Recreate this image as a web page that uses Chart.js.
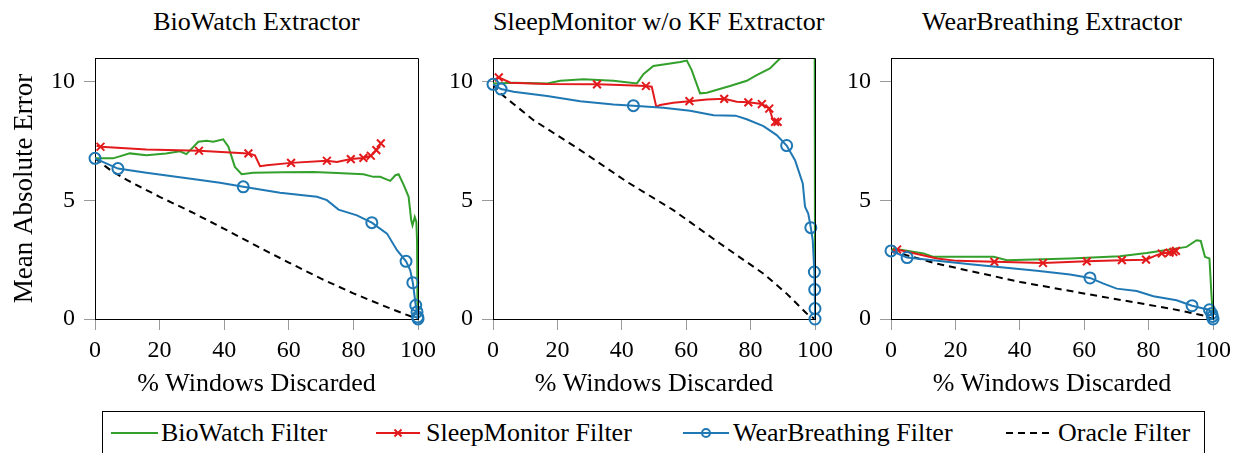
<!DOCTYPE html>
<html><head><meta charset="utf-8">
<script src="https://cdn.jsdelivr.net/npm/chart.js@4/dist/chart.umd.min.js"></script>
<style>
body{margin:0;background:#fff;width:1245px;height:453px;overflow:hidden;position:relative;font-family:'Liberation Serif',serif;}
canvas{position:absolute;top:0;}
.ttl{position:absolute;top:5px;font-size:26px;text-align:center;line-height:34px;color:#000;white-space:nowrap;}
#legend{position:absolute;left:102px;top:411px;width:1103px;height:60px;border:1px solid #000;box-sizing:border-box;}
.lt{position:absolute;top:4px;font-size:26px;line-height:34px;white-space:nowrap;}
.ls{position:absolute;top:0;}
</style></head><body>
<div class="ttl" style="left:95px;width:323px">BioWatch Extractor</div>
<div class="ttl" style="left:493px;width:322px">SleepMonitor w/o KF Extractor</div>
<div class="ttl" style="left:891px;width:322px">WearBreathing Extractor</div>
<canvas id="c1" width="443" height="400" style="left:0px"></canvas>
<canvas id="c2" width="395" height="400" style="left:445px"></canvas>
<canvas id="c3" width="395" height="400" style="left:843px"></canvas>
<div id="legend">
<svg class="ls" width="1100" height="50">
<line x1="8" y1="21" x2="55" y2="21" stroke="#33a02c" stroke-width="2"/>
<line x1="273" y1="21" x2="317" y2="21" stroke="#e31a1c" stroke-width="2"/>
<path d="M291.5 17.5 L298.5 24.5 M298.5 17.5 L291.5 24.5" stroke="#e31a1c" stroke-width="2"/>
<line x1="580" y1="21" x2="626" y2="21" stroke="#1f78b4" stroke-width="2"/>
<circle cx="603" cy="21" r="4" fill="none" stroke="#1f78b4" stroke-width="2"/>
<line x1="903" y1="21" x2="948" y2="21" stroke="#000" stroke-width="2" stroke-dasharray="7,5"/>
</svg>
<span class="lt" style="left:58px">BioWatch Filter</span>
<span class="lt" style="left:323px">SleepMonitor Filter</span>
<span class="lt" style="left:630px">WearBreathing Filter</span>
<span class="lt" style="left:955px">Oracle Filter</span>
</div>
<script>
// ---------- data ----------
const xTicks = [0, 20, 40, 60, 80, 100];
const yTicks = [0, 5, 10];
const seriesNames = ["BioWatch Filter", "SleepMonitor Filter", "WearBreathing Filter", "Oracle Filter"];
const panelTitles = ["BioWatch Extractor", "SleepMonitor w/o KF Extractor", "WearBreathing Extractor"];

// Panel 1: BioWatch Extractor
const p1GreenX = [0,5.6,10.8,15.9,22,26.3,28.3,32,34.5,36.6,39.7,41.3,43.3,45.4,49,58,67.6,75,83.1,86.2,88.3,91.4,93,94,95.6,97.1,97.9,98.3,99,99.5,99.7,99.8,99.9];
const p1GreenY = [6.77,6.77,6.98,6.9,6.98,7.07,6.95,7.47,7.51,7.47,7.57,7.26,6.41,6.1,6.16,6.18,6.2,6.15,6.1,5.99,5.99,5.82,6.06,6.1,5.64,5.15,4.16,3.95,4.3,4.09,3.32,1.07,0.2];
const p1RedX = [0.5,1.7,15.9,32.2,47.5,49.5,51.1,53.2,60.7,71.8,74.9,79.2,83.1,85.4,87.1,88.5];
const p1RedY = [7.3,7.26,7.14,7.09,6.98,6.9,6.44,6.48,6.58,6.67,6.62,6.74,6.79,6.88,7.12,7.4];
const p1RedMkX = [1.7,32.2,47.5,60.7,71.8,79.2,83.1,85.4,87.1,88.5];
const p1RedMkY = [7.26,7.09,6.98,6.58,6.67,6.74,6.79,6.88,7.12,7.4];
const p1BlueX = [0,7.1,15.9,31.4,38.7,45.9,57.3,68.7,71.8,75.4,81.1,85.7,90.4,93.5,96.3,97.6,98.4,99.3,99.7,99.9,100];
const p1BlueY = [6.77,6.34,6.16,5.88,5.74,5.57,5.32,5.15,5.01,4.61,4.37,4.06,3.6,2.9,2.43,2.05,1.53,0.58,0.3,0.08,0];
const p1BlueMkX = [0,7.1,45.9,85.7,96.3,98.4,99.3,99.7,99.9,100];
const p1BlueMkY = [6.77,6.34,5.57,4.06,2.43,1.53,0.58,0.3,0.08,0];
const p1OracleX = [0,5,10,20,30,40,50,60,70,80,90,96,100];
const p1OracleY = [6.77,6.25,5.85,5.15,4.5,3.8,3.08,2.38,1.7,1.08,0.52,0.2,0];

// Panel 2: SleepMonitor w/o KF Extractor
const p2GreenX = [0,6.4,16.8,20.9,28.1,37.4,44.7,46.7,49.8,54,58.1,60.2,61.7,64.3,66.4,73.6,78.8,81.9,86,88.1,89.7,92,96,99.5,99.9,100];
const p2GreenY = [9.93,9.96,9.93,10.04,10.1,10.04,9.93,10.32,10.66,10.75,10.83,10.89,10.49,9.51,9.54,9.82,10.04,10.28,10.56,10.84,11.05,11.5,12,12,11.5,2.0];
const p2RedX = [0.5,1.8,5.4,16.8,32.3,39.5,47.5,49.3,50.7,51.9,56,61,66.4,71.8,75.7,79.3,83.5,85.8,86.9,87.6,88.4];
const p2RedY = [10.1,10.18,9.96,9.9,9.89,9.86,9.82,9.79,8.95,9.02,9.11,9.18,9.25,9.28,9.16,9.13,9.06,8.87,8.41,8.31,8.31];
const p2RedMkX = [1.8,32.3,47.5,61,71.8,79.3,83.5,85.8,87.6,88.4];
const p2RedMkY = [10.18,9.89,9.82,9.18,9.28,9.13,9.06,8.87,8.31,8.31];
const p2BlueX = [0,2.5,6.4,16.8,27.1,37.4,43.6,52.9,61.2,68.5,75.3,78.8,84,88.1,91.2,93.8,96.2,96.9,97.9,98.7,99.3,99.8,99.9,100,100];
const p2BlueY = [9.89,9.69,9.58,9.4,9.18,9.04,8.99,8.9,8.78,8.59,8.57,8.42,8.13,7.75,7.31,6.69,5.71,4.73,4.44,3.85,3.32,1.98,1.24,0.44,0];
const p2BlueMkX = [0,2.5,43.6,91.2,98.7,99.8,99.9,100,100];
const p2BlueMkY = [9.89,9.69,8.99,7.31,3.85,1.98,1.24,0.44,0];
const p2OracleX = [0,2.3,12.6,27.1,41.6,56,70.5,84,91.2,97.4,100];
const p2OracleY = [9.89,9.51,8.38,7.12,5.78,4.59,3.18,1.91,1.07,0.23,0];

// Panel 3: WearBreathing Extractor
const p3GreenX = [0,0.8,10.1,13.2,31.9,36,55.6,71.1,79.4,86.7,91.8,94.9,96.2,97.5,98.9,99.5,99.9];
const p3GreenY = [2.85,2.97,2.76,2.62,2.62,2.48,2.55,2.64,2.78,2.93,3.04,3.32,3.29,2.62,2.55,1.07,0.23];
const p3RedX = [0.5,1.9,14.3,20.5,32.1,47.2,60.8,71.7,79.2,82.5,84.1,86.5,87.7,88.5];
const p3RedY = [2.9,2.93,2.55,2.45,2.41,2.36,2.43,2.48,2.5,2.69,2.76,2.8,2.83,2.87];
const p3RedMkX = [1.9,32.1,47.2,60.8,71.7,79.2,84.1,86.5,87.7,88.5];
const p3RedMkY = [2.93,2.41,2.36,2.43,2.48,2.5,2.76,2.8,2.83,2.87];
const p3BlueX = [0,5,24.6,45.3,55.6,61.8,66,70.1,76.3,81.5,88.7,93.5,97,98.9,99.6,99.8,100];
const p3BlueY = [2.87,2.59,2.31,2.03,1.88,1.73,1.49,1.28,1.18,0.96,0.79,0.56,0.44,0.39,0.23,0.11,0];
const p3BlueMkX = [0,5,61.8,93.5,98.9,99.6,99.8,100];
const p3BlueMkY = [2.87,2.59,1.73,0.56,0.39,0.23,0.11,0];
const p3OracleX = [0,14.3,40.1,66,86.7,97,100];
const p3OracleY = [2.87,2.33,1.56,0.93,0.44,0.15,0];

// ---------- drawing ----------
const GREEN = '#33a02c', RED = '#e31a1c', BLUE = '#1f78b4';
const FAMILY = "'Liberation Serif', serif";
Chart.defaults.font.family = FAMILY;
Chart.defaults.color = '#000';

const pts = (xs, ys) => xs.map((x, i) => ({x: x, y: ys[i]}));

const frame = {
  id: 'frame',
  afterDraw(chart) {
    const {ctx, chartArea: a} = chart;
    ctx.save();
    ctx.strokeStyle = '#000';
    ctx.lineWidth = 1;
    ctx.beginPath();
    ctx.moveTo(Math.round(a.left) + 0.5, Math.round(a.top) + 0.5);
    ctx.lineTo(Math.round(a.right) + 0.5, Math.round(a.top) + 0.5);
    ctx.lineTo(Math.round(a.right) + 0.5, Math.round(a.bottom) + 0.5);
    ctx.stroke();
    ctx.restore();
  }
};

function makeChart(id, d, yAxisWidth, showYTitle) {
  const lineDs = (data, color, dash) => ({data, showLine: true, borderColor: color, borderWidth: 2,
    borderDash: dash || [], pointRadius: 0, pointHoverRadius: 0, tension: 0, fill: false});
  const mkDs = (data, color, style, r) => ({data, showLine: false, borderColor: color, clip: false,
    backgroundColor: 'rgba(0,0,0,0)', borderWidth: 2, pointStyle: style, pointRadius: r, pointHoverRadius: r});
  new Chart(document.getElementById(id), {
    type: 'scatter',
    data: {datasets: [
      mkDs(pts(d.bmx, d.bmy), BLUE, 'circle', 5.5),
      lineDs(pts(d.bx, d.by), BLUE),
      mkDs(pts(d.rmx, d.rmy), RED, 'crossRot', 5.5),
      lineDs(pts(d.rx, d.ry), RED),
      lineDs(pts(d.gx, d.gy), GREEN),
      lineDs(pts(d.ox, d.oy), '#000', [7, 5]),
    ]},
    options: {
      responsive: false, animation: false, events: [],
      layout: {padding: {top: 58, right: 25, left: 0, bottom: 0}},
      plugins: {legend: {display: false}, tooltip: {enabled: false}},
      scales: {
        x: {type: 'linear', min: 0, max: 100,
          afterBuildTicks: s => { s.ticks = xTicks.map(v => ({value: v})); },
          afterFit: s => { s.height = 81; },
          grid: {drawOnChartArea: false, drawTicks: true, tickLength: 11, color: '#9a9a9a'},
          border: {display: true, color: '#000', width: 1},
          ticks: {font: {family: FAMILY, size: 24}, padding: 6, maxRotation: 0, autoSkip: false},
          title: {display: true, text: '% Windows Discarded', font: {family: FAMILY, size: 26}, padding: {top: 0, bottom: 0}}
        },
        y: {type: 'linear', min: 0, max: 11,
          afterBuildTicks: s => { s.ticks = yTicks.map(v => ({value: v})); },
          afterFit: s => { s.width = yAxisWidth; },
          grid: {drawOnChartArea: false, drawTicks: true, tickLength: 11, color: '#9a9a9a'},
          border: {display: true, color: '#000', width: 1},
          ticks: {font: {family: FAMILY, size: 24}, padding: 9},
          title: {display: showYTitle, text: 'Mean Absolute Error', font: {family: FAMILY, size: 27}, padding: {top: 9, bottom: 0}}
        }
      }
    },
    plugins: [frame]
  });
}

makeChart('c1', {gx: p1GreenX, gy: p1GreenY, rx: p1RedX, ry: p1RedY, rmx: p1RedMkX, rmy: p1RedMkY,
  bx: p1BlueX, by: p1BlueY, bmx: p1BlueMkX, bmy: p1BlueMkY, ox: p1OracleX, oy: p1OracleY}, 95, true);
makeChart('c2', {gx: p2GreenX, gy: p2GreenY, rx: p2RedX, ry: p2RedY, rmx: p2RedMkX, rmy: p2RedMkY,
  bx: p2BlueX, by: p2BlueY, bmx: p2BlueMkX, bmy: p2BlueMkY, ox: p2OracleX, oy: p2OracleY}, 48, false);
makeChart('c3', {gx: p3GreenX, gy: p3GreenY, rx: p3RedX, ry: p3RedY, rmx: p3RedMkX, rmy: p3RedMkY,
  bx: p3BlueX, by: p3BlueY, bmx: p3BlueMkX, bmy: p3BlueMkY, ox: p3OracleX, oy: p3OracleY}, 48, false);
</script>
</body></html>
